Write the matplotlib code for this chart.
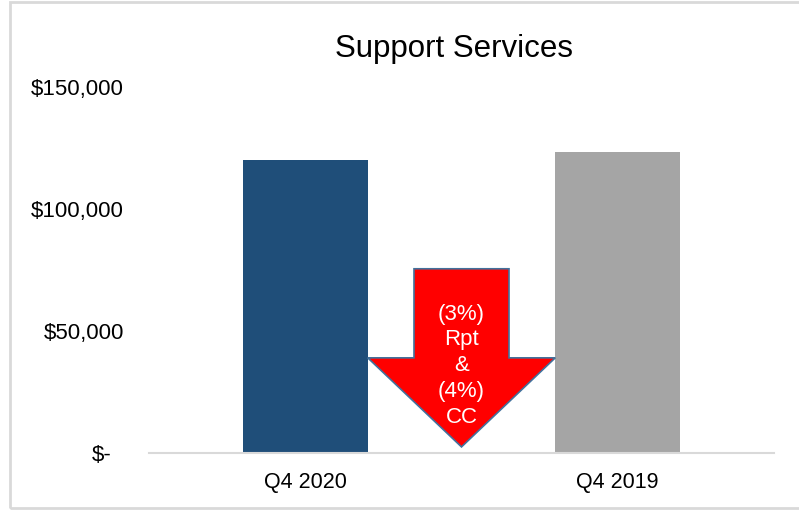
import matplotlib
matplotlib.use("Agg")
import matplotlib.pyplot as plt
from matplotlib.patches import Polygon, Rectangle
import matplotlib.transforms as mtransforms

categories = ["Q4 2020", "Q4 2019"]
values = [120000, 123500]
colors = ["#1F4E79", "#A5A5A5"]
tick_values = [0, 50000, 100000, 150000]
tick_labels = ["$-", "$50,000", "$100,000", "$150,000"]
title = "Support Services"
arrow_text = "(3%)\nRpt\n&\n(4%)\nCC"

plt.rcParams['font.family'] = ['Liberation Sans', 'DejaVu Sans']

W, H = 799, 511
fig = plt.figure(figsize=(W / 100, H / 100), dpi=100)
ax = fig.add_axes([149 / W, 1 - 453 / H, (774 - 149) / W, (453 - 87) / H])

x = list(range(len(categories)))
ax.bar(x, values, width=0.4, color=colors, zorder=2)
ax.set_xlim(-0.5, 1.5)
ax.set_ylim(0, 150000)
ax.set_yticks(tick_values)
ax.set_yticklabels(tick_labels, fontsize=16)
ax.set_xticks(x)
ax.set_xticklabels(categories, fontsize=15.5)
ax.tick_params(axis='both', length=0)
ax.tick_params(axis='y', pad=18)
ax.tick_params(axis='x', pad=14)
for s in ["top", "right", "left"]:
    ax.spines[s].set_visible(False)
ax.spines["bottom"].set_color("#D9D9D9")
ax.spines["bottom"].set_linewidth(1.5)

# shift "$-" label (accounting format)
lbl0 = ax.get_yticklabels()[0]
lbl0.set_transform(lbl0.get_transform() + mtransforms.ScaledTranslation(-12 / 100, 0, fig.dpi_scale_trans))

# down arrow between bars
cx = 0.5
sw, hw = 0.152, 0.30
top_y, base_y, tip_y = 75500, 39000, 2500
pts = [(cx - sw, top_y), (cx + sw, top_y), (cx + sw, base_y), (cx + hw, base_y),
       (cx, tip_y), (cx - hw, base_y), (cx - sw, base_y)]
ax.add_patch(Polygon(pts, closed=True, facecolor="#FF0000", edgecolor="#41719C",
                     linewidth=1.2, zorder=3))
ax.text(cx, 35800, arrow_text, ha="center", va="center", color="white",
        fontsize=16, linespacing=1.3, zorder=4)

fig.text(454 / W, 1 - 49 / H, title, ha="center", va="center", fontsize=22.5)

# chart border
fig.patches.append(Rectangle((10 / W, 3 / H), 1.2, 1 - 5 / H, transform=fig.transFigure,
                             fill=False, edgecolor="#D9D9D9", linewidth=2))

fig.savefig("out.png", dpi=100)
